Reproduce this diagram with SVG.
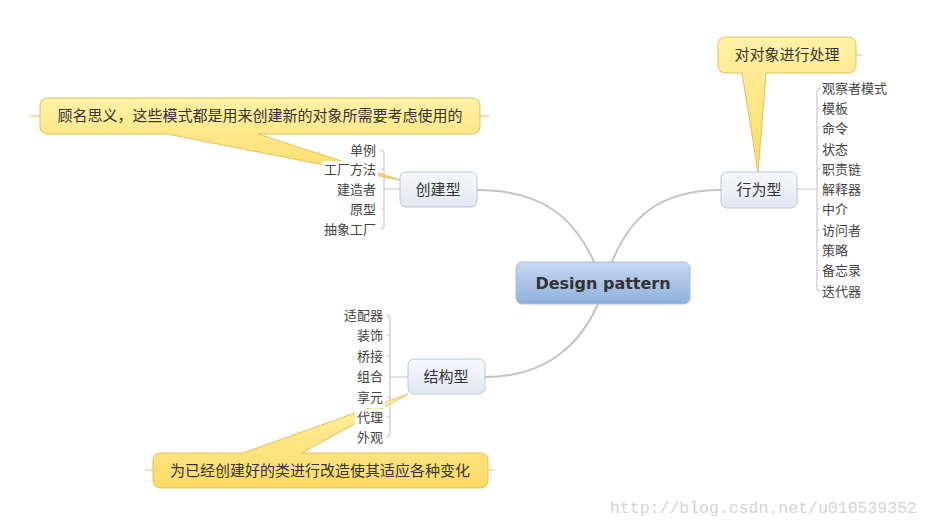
<svg xmlns="http://www.w3.org/2000/svg" width="931" height="527" viewBox="0 0 931 527">
<defs>
<linearGradient id="gNode" x1="0" y1="0" x2="0" y2="1"><stop offset="0" stop-color="#f6f8fc"/><stop offset="1" stop-color="#e2e7f2"/></linearGradient>
<linearGradient id="gCenter" x1="0" y1="0" x2="0" y2="1"><stop offset="0" stop-color="#c6d8f0"/><stop offset="1" stop-color="#8fb0dc"/></linearGradient>
<linearGradient id="gCall" x1="0" y1="0" x2="0" y2="1"><stop offset="0" stop-color="#fff2a6"/><stop offset="1" stop-color="#fdda66"/></linearGradient>
<style>
.node{fill:url(#gNode);stroke:#bcc5d6;stroke-width:1}
.center{fill:url(#gCenter);stroke:#a9bdd9;stroke-width:1}
.call{fill:url(#gCall);stroke:#e3c158;stroke-width:1}
.stub{stroke:#e3c158;stroke-width:1;fill:none}
.conn{fill:none;stroke:#c4c4c4;stroke-width:2}
.br{fill:none;stroke:#c8c8c8;stroke-width:1.2}
.bg{fill:#ffffff}
.nt{font-family:"Noto Sans CJK SC","Liberation Sans",sans-serif;font-size:15px;fill:#333;text-anchor:middle}
.ct{font-family:"Noto Sans CJK SC","Liberation Sans",sans-serif;font-size:15px;fill:#333;text-anchor:middle}
.lf{font-family:"Noto Sans CJK SC","Liberation Sans",sans-serif;font-size:13px;fill:#444}
.le{text-anchor:end}
</style>
</defs>
<rect width="931" height="527" fill="#ffffff"/>

<g id="connectors">
<path class="conn" d="M477,190 C545,190 575,220 594,262"/>
<path class="conn" d="M721,190 C655,190 628,222 612,262"/>
<path class="conn" d="M485,377 C550,377 582,340 598,304"/>
<path class="br" d="M400,189 H384 M380,150 Q384,150 384,154 V225 Q384,229 380,229 M384,169 H381 M384,209 H381"/>
<path class="br" d="M797,189 H817 M821,88 Q817,88 817,92 V287 Q817,291 821,291 M817,108 H820 M817,128 H820 M817,149 H820 M817,169 H820 M817,209 H820 M817,230 H820 M817,250 H820 M817,270 H820"/>
<path class="br" d="M408,377 H390 M386,315 Q390,315 390,319 V433 Q390,437 386,437 M390,335 H387 M390,356 H387 M390,397 H387 M390,417 H387"/>
</g>

<g id="callout-create">
<path class="stub" d="M30,116 H40 M480,116 H490"/>
<path class="call" d="M48,98 H472 Q480,98 480,106 V126 Q480,134 472,134 H258 L400,180 L167,134 H48 Q40,134 40,126 V106 Q40,98 48,98 Z"/>
<text class="ct" x="260" y="121">顾名思义，这些模式都是用来创建新的对象所需要考虑使用的</text>
</g>

<g id="callout-behavior">
<path class="stub" d="M856,55 H862"/>
<path class="call" d="M726,37 H848 Q856,37 856,45 V65 Q856,73 848,73 H766 L758,172 L742,73 H726 Q718,73 718,65 V45 Q718,37 726,37 Z"/>
<text class="ct" x="787" y="60">对对象进行处理</text>
</g>

<g id="callout-structure">
<path class="stub" d="M145,470 H153 M488,470 H495"/>
<path class="call" d="M161,453 H243 L408,394 L302,453 H480 Q488,453 488,461 V480 Q488,488 480,488 H161 Q153,488 153,480 V461 Q153,453 161,453 Z"/>
<text class="ct" x="320" y="476">为已经创建好的类进行改造使其适应各种变化</text>
</g>

<g id="node-center">
<rect class="center" x="516" y="262" width="174" height="42" rx="6"/>
<text x="603" y="289" font-family="'DejaVu Sans',Verdana,sans-serif" font-size="16" font-weight="bold" fill="#333" text-anchor="middle">Design pattern</text>
</g>

<g id="node-create">
<rect class="node" x="400" y="172" width="77" height="35" rx="6"/>
<text class="nt" x="438" y="195">创建型</text>
</g>
<g id="node-behavior">
<rect class="node" x="721" y="172" width="76" height="36" rx="6"/>
<text class="nt" x="759" y="195">行为型</text>
</g>
<g id="node-structure">
<rect class="node" x="408" y="359" width="77" height="35" rx="6"/>
<text class="nt" x="446" y="382">结构型</text>
</g>

<g id="leaves-create">
<text class="lf le" x="376" y="155">单例</text>
<rect class="bg" x="322" y="161" width="56" height="17"/>
<text class="lf le" x="376" y="174">工厂方法</text>
<text class="lf le" x="376" y="194">建造者</text>
<text class="lf le" x="376" y="214">原型</text>
<text class="lf le" x="376" y="234">抽象工厂</text>
</g>

<g id="leaves-behavior">
<text class="lf" x="822" y="93">观察者模式</text>
<text class="lf" x="822" y="113">模板</text>
<text class="lf" x="822" y="133">命令</text>
<text class="lf" x="822" y="154">状态</text>
<text class="lf" x="822" y="174">职责链</text>
<text class="lf" x="822" y="194">解释器</text>
<text class="lf" x="822" y="214">中介</text>
<text class="lf" x="822" y="235">访问者</text>
<text class="lf" x="822" y="255">策略</text>
<text class="lf" x="822" y="275">备忘录</text>
<text class="lf" x="822" y="296">迭代器</text>
</g>

<g id="leaves-structure">
<text class="lf le" x="383" y="320">适配器</text>
<text class="lf le" x="383" y="340">装饰</text>
<text class="lf le" x="383" y="361">桥接</text>
<text class="lf le" x="383" y="381">组合</text>
<rect class="bg" x="355" y="389" width="30" height="19"/>
<text class="lf le" x="383" y="402">享元</text>
<rect class="bg" x="355" y="409" width="30" height="18"/>
<text class="lf le" x="383" y="422">代理</text>
<text class="lf le" x="383" y="442">外观</text>
</g>

<text x="610" y="513" font-family="'Liberation Mono',monospace" font-size="16.5" fill="#d4d4d4">http://blog.csdn.net/u010539352</text>
</svg>
